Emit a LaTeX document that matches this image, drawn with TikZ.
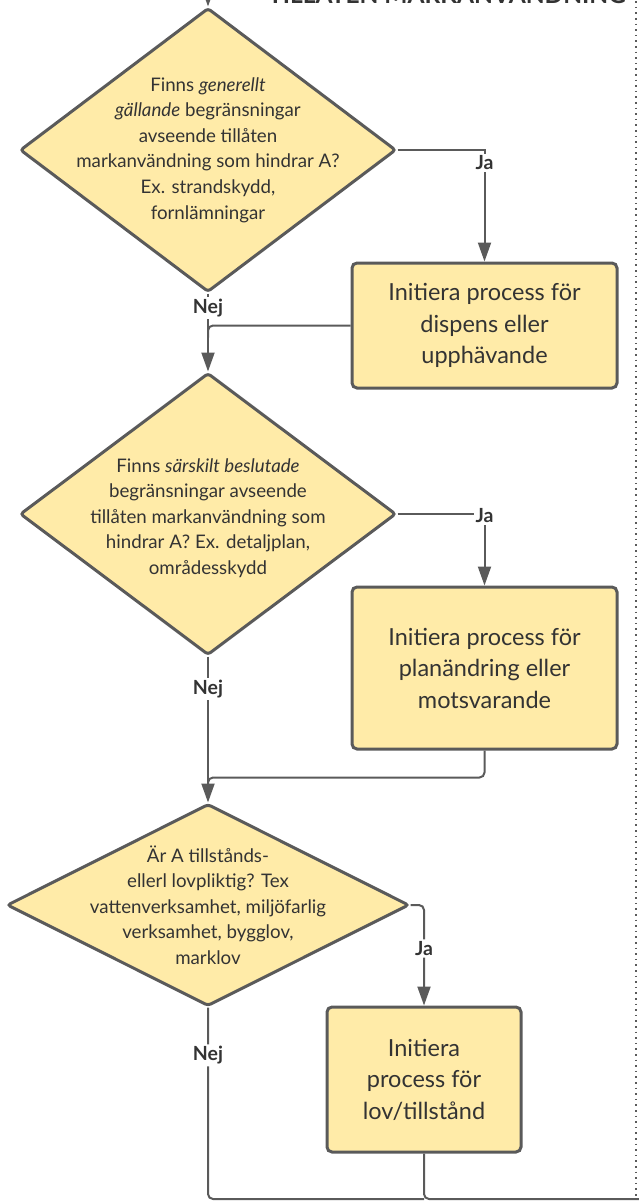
\documentclass[tikz,border=0pt]{standalone}
\usepackage{fontspec}
\setmainfont{Lato}
\usetikzlibrary{calc,shapes.geometric,arrows.meta}

\definecolor{boxfill}{RGB}{255,235,168}
\definecolor{edge}{RGB}{90,90,90}
\definecolor{ink}{RGB}{51,51,51}

\begin{document}
\begin{tikzpicture}[x=1pt,y=-1pt,
        decision/.style={shape=diamond,draw=edge,fill=boxfill,line width=3pt,
            rounded corners=3pt,inner sep=0pt},
        qtext/.style={align=center,text=ink,font=\fontsize{18.7}{25.6}\selectfont},
        action/.style={rectangle,draw=edge,fill=boxfill,line width=3pt,
            rounded corners=5pt,align=center,text=ink,
            font=\fontsize{23.5}{31.5}\selectfont},
        flow/.style={draw=edge,line width=2pt,-{Triangle[length=19pt,width=13pt]}},
        line/.style={draw=edge,line width=2pt,rounded corners=5pt},
        lbl/.style={fill=white,inner sep=2pt,text=ink,font=\fontsize{19.5}{22}\selectfont\bfseries},
        border/.style={draw=edge,line width=1.6pt,dash pattern=on 1.6pt off 4pt}]
        \useasboundingbox (0,0) rectangle (639,1204);
        \node[anchor=base,text=ink,font=\fontsize{24.5}{28}\selectfont\bfseries] (lanetitle) at (447,4) {TILLÅTEN MARKANVÄNDNING};
        \coordinate (laneTop) at (636,-10);
        \coordinate (laneBot) at (636,1199);
        \draw[border] (laneTop) -- (laneBot);
        \node[decision,minimum width=376pt,minimum height=284pt] (q1) at (208,150) {};
        \node[qtext] (q1text) at (q1) {Finns \textit{generellt}\\\textit{gällande} begränsningar\\avseende tillåten\\markanvändning som hindrar A?\\Ex. strandskydd,\\fornlämningar};
        \node[action,minimum width=265pt,minimum height=125pt] (a1) at (484.5,325.5) {Initiera process för\\dispens eller\\upphävande};
        \node[decision,minimum width=376pt,minimum height=282pt] (q2) at (208,514) {};
        \node[qtext] (q2text) at ($(q2)+(0,4)$) {Finns \textit{särskilt beslutade}\\begränsningar avseende\\tillåten markanvändning som\\hindrar A? Ex. detaljplan,\\områdesskydd};
        \node[action,minimum width=265pt,minimum height=162pt] (a2) at (484.5,668) {Initiera process för\\planändring eller\\motsvarande};
        \node[decision,minimum width=402pt,minimum height=202pt] (q3) at (208,905) {};
        \node[qtext] (q3text) at (q3) {Är A tillstånds-\\ellerl lovpliktig? Tex\\vattenverksamhet, miljöfarlig\\verksamhet, bygglov,\\marklov};
        \node[action,minimum width=194pt,minimum height=145pt] (a3) at (424,1079.5) {Initiera\\process för\\lov/tillstånd};
        \coordinate (start) at (208,-40);
        \draw[flow] (start) -- (q1.north);
        \draw[flow] (q1.east) -| node[lbl,pos=0.557] {Ja} (a1.north);
        \coordinate (j1) at ($(q1.south |- a1.west)+(0,12)$);
        \draw[line] (a1.west) -| (j1);
        \draw[flow] (q1.south) -- node[lbl,pos=0.185] {Nej} (q2.north);
        \draw[flow] (q2.east) -| node[lbl,pos=0.51] {Ja} (a2.north);
        \coordinate (b2) at ($(a2.south)+(0,27)$);
        \coordinate (j2) at ($(q2.south |- b2)+(0,12)$);
        \draw[line] (a2.south) -- (b2) -| (j2);
        \draw[flow] (q2.south) -- node[lbl,pos=0.22] {Nej} (q3.north);
        \draw[flow,rounded corners=5pt] (q3.east) -| node[lbl,pos=0.716] {Ja} (a3.north);
        \coordinate (end) at (650,1199);
        \draw[line] (q3.south) -- node[lbl,pos=0.25] {Nej} (q3.south |- end) -- (a3.south |- end);
        \draw[line] (a3.south) |- (end);
    \end{tikzpicture}
\end{document}
